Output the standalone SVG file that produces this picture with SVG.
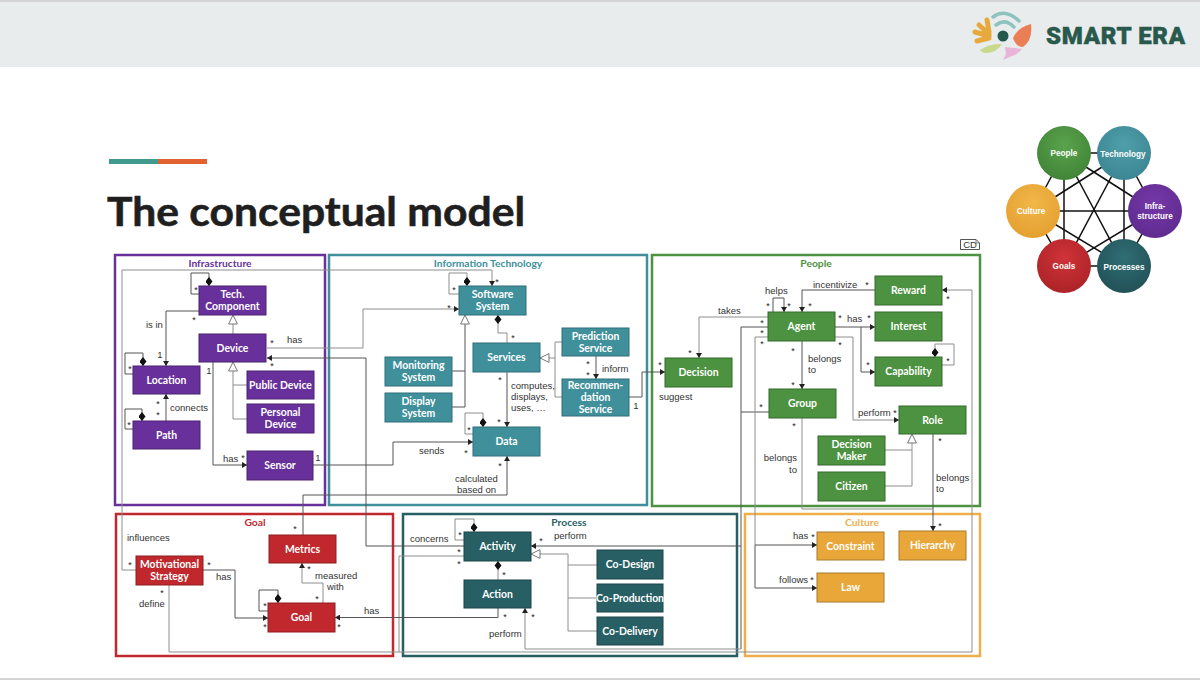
<svg xmlns="http://www.w3.org/2000/svg" width="1200" height="680" viewBox="0 0 1200 680">
<style>
.n{stroke-width:1}
.n text,.t{font-family:"Lato","Open Sans",sans-serif;font-weight:700;font-size:10.4px;fill:#fff;text-anchor:middle}
.pu rect{fill:#68309b;stroke:#4a2270}.te rect{fill:#40909c;stroke:#2e6f78}.gr rect{fill:#4c9240;stroke:#356a2c}.re rect{fill:#c0282d;stroke:#8f1e22}.dt rect{fill:#275f64;stroke:#1c4549}.or rect{fill:#e9a73a;stroke:#a87a2a}
.f{fill:none;stroke-width:2.5}
.fl{font-family:"Lato","Open Sans",sans-serif;font-weight:700;font-size:10.3px;text-anchor:middle}
.l{font-family:"Liberation Sans",Arial,sans-serif;font-size:9.5px;fill:#333}
.e{text-anchor:end}
.s{font-family:"Liberation Sans",Arial,sans-serif;font-size:9px;fill:#222;text-anchor:middle}
.c{fill:none;stroke:#555;stroke-width:1}
.g{fill:none;stroke:#8e8e8e;stroke-width:1}
.a{marker-end:url(#arr)}
.d{marker-start:url(#dia)}
.o{marker-start:url(#tri)}
.k line{stroke:#111;stroke-width:1.5}
.k text{font-family:"Liberation Sans",Arial,sans-serif;font-weight:700;font-size:8.2px;fill:#fff;text-anchor:middle}
.h{fill:none;stroke:#e7a93c;stroke-width:5;stroke-linecap:round}
.w{fill:none;stroke:#8cc3bc;stroke-width:3.5;stroke-linecap:round}
</style>
<defs>
<marker id="arr" markerUnits="userSpaceOnUse" markerWidth="6" markerHeight="6" refX="5" refY="3" orient="auto"><path d="M0 0L5 3L0 6Z" fill="#222"/></marker>
<marker id="dia" markerUnits="userSpaceOnUse" markerWidth="11" markerHeight="8" refX="0" refY="3.5" orient="auto"><path d="M0 3.5L4.500 0L9 3.500L4.500 7Z" fill="#111"/></marker>
<marker id="tri" markerUnits="userSpaceOnUse" markerWidth="12" markerHeight="10" refX="0.5" refY="5" orient="auto"><path d="M0.500 5L9.500 0.600V9.400Z" fill="#fff" stroke="#777"/></marker>
<radialGradient id="gP" cx="50%" cy="35%" r="70%"><stop offset="0" stop-color="#5aa34c"/><stop offset="1" stop-color="#3f8136"/></radialGradient>
<radialGradient id="gT" cx="50%" cy="35%" r="70%"><stop offset="0" stop-color="#4f9fab"/><stop offset="1" stop-color="#3a8490"/></radialGradient>
<radialGradient id="gI" cx="50%" cy="35%" r="70%"><stop offset="0" stop-color="#7538a8"/><stop offset="1" stop-color="#5e2a8e"/></radialGradient>
<radialGradient id="gR" cx="50%" cy="35%" r="70%"><stop offset="0" stop-color="#2f6e74"/><stop offset="1" stop-color="#214f55"/></radialGradient>
<radialGradient id="gG" cx="50%" cy="35%" r="70%"><stop offset="0" stop-color="#cf3338"/><stop offset="1" stop-color="#aa2226"/></radialGradient>
<radialGradient id="gC" cx="50%" cy="35%" r="70%"><stop offset="0" stop-color="#f2b649"/><stop offset="1" stop-color="#e39f2f"/></radialGradient>
</defs>
<rect width="1200" height="680" fill="#fff"/>
<g id="header">
<rect y="0" width="1200" height="67" fill="#e9eced"/>
<rect y="0" width="1200" height="2" fill="#d4d4d4"/>
<rect y="678" width="1200" height="2" fill="#d4d4d4"/>
</g>
<g id="logo">
<path class="w" d="M993 17Q1005 8 1019 21"/>
<path class="w" d="M996 25Q1005 18 1014 27"/>
<circle cx="1003" cy="36" r="5.500" fill="#25594e"/>
<path d="M1013 38Q1018 27 1031 24Q1033 40 1023 47Q1016 47 1013 38Z" fill="#ea7f57"/>
<path class="h" d="M989 36L975 32M989 34L979 25M989 32L987 20M989 38L977 41"/>
<path d="M980 50Q990 43 1002 44Q996 53 986 53Q982 53 980 50Z" fill="#c9d98c"/>
<path d="M1005 47L1022 49Q1018 54 1012 56L1003 60L1006 54Z" fill="#e8b4d8"/>
<text x="1046" y="44" font-family="Roboto,Lato,sans-serif" font-weight="900" font-size="24" fill="#28594c" stroke="#28594c" stroke-width=".5" textLength="139" lengthAdjust="spacing">SMART ERA</text>
</g>
<g id="title">
<rect x="109" y="159" width="49" height="5" fill="#429a8f"/>
<rect x="158" y="159" width="49" height="5" fill="#e2622f"/>
<text x="107" y="226" font-family="Lato,'Open Sans',sans-serif" font-weight="700" font-size="41" fill="#1f1f1f" stroke="#1f1f1f" stroke-width=".6" textLength="418" lengthAdjust="spacingAndGlyphs">The conceptual model</text>
</g>
<g id="wheel" class="k">
<line x1="1064" y1="153" x2="1124" y2="153"/><line x1="1064" y1="153" x2="1155" y2="211"/><line x1="1064" y1="153" x2="1124" y2="266"/><line x1="1064" y1="153" x2="1064" y2="266"/><line x1="1064" y1="153" x2="1033" y2="211"/>
<line x1="1124" y1="153" x2="1155" y2="211"/><line x1="1124" y1="153" x2="1124" y2="266"/><line x1="1124" y1="153" x2="1064" y2="266"/><line x1="1124" y1="153" x2="1033" y2="211"/>
<line x1="1155" y1="211" x2="1124" y2="266"/><line x1="1155" y1="211" x2="1064" y2="266"/><line x1="1155" y1="211" x2="1033" y2="211"/>
<line x1="1124" y1="266" x2="1064" y2="266"/><line x1="1124" y1="266" x2="1033" y2="211"/><line x1="1064" y1="266" x2="1033" y2="211"/>
<circle cx="1064" cy="153" r="27" fill="url(#gP)"/><text x="1064" y="156">People</text>
<circle cx="1124" cy="153" r="27" fill="url(#gT)"/><text x="1123" y="157">Technology</text>
<circle cx="1155" cy="211" r="27" fill="url(#gI)"/><text x="1155" y="209">Infra-</text><text x="1155" y="219">structure</text>
<circle cx="1124" cy="266" r="27" fill="url(#gR)"/><text x="1124" y="270">Processes</text>
<circle cx="1064" cy="266" r="27" fill="url(#gG)"/><text x="1064" y="269">Goals</text>
<circle cx="1033" cy="211" r="27" fill="url(#gC)"/><text x="1031" y="214">Culture</text>
</g>
<g id="frames">
<rect class="f" x="115" y="255" width="210" height="250" stroke="#68309b"/>
<rect class="f" x="329" y="255" width="318" height="250" stroke="#40909c"/>
<rect class="f" x="652" y="255" width="328" height="251" stroke="#4c9240"/>
<rect class="f" x="116" y="514" width="277" height="142" stroke="#c0282d"/>
<rect class="f" x="403" y="514" width="334" height="142" stroke="#275f64"/>
<rect class="f" x="745" y="514" width="235" height="142" stroke="#eeae4a"/>
<text class="fl" x="220" y="267" fill="#68309b">Infrastructure</text>
<text class="fl" x="488" y="267" fill="#40909c">Information Technology</text>
<text class="fl" x="816" y="267" fill="#4c9240">People</text>
<text class="fl" x="255" y="526" fill="#c0282d">Goal</text>
<text class="fl" x="569" y="526" fill="#275f64">Process</text>
<text class="fl" x="862" y="526" fill="#eeae4a">Culture</text>
<path d="M960.500 239.500H976L979.500 243V249.500H960.500Z" fill="#fff" stroke="#555"/>
<path d="M976 239.500V243H979.500" fill="none" stroke="#555" stroke-width=".7"/>
<text x="970" y="248" font-family="Liberation Sans,Arial,sans-serif" font-size="9.500" fill="#333" text-anchor="middle">CD</text>
</g>
<g id="connectors">
<path class="g a" d="M136 570H122V270H492V286"/>
<path class="g a" d="M267 348H363V309H459"/>
<path class="c a" d="M464 546H366V358H267"/>
<path class="g" d="M464 556H399V652"/>
<path class="g a" d="M169 585V652H972V290H942"/>
<path class="c a" d="M741 546H531"/>
<path class="c" d="M768 327H741V649"/>
<path class="g a" d="M741 649H525V608"/>
<path class="c" d="M769 412H741"/>
<path class="g" d="M768 337H755V545"/>
<path class="c a" d="M755 545H817"/>
<path class="c a" d="M755 545V588H817"/>
<path class="g a" d="M768 317H699V358"/>
<path class="c a" d="M629 397H642V372H665"/>
<path class="c a" d="M213 362V465H247"/>
<path class="c a" d="M313 465H393V442H473"/>
<path class="c a" d="M303 535V495H507V456"/>
<path class="c a" d="M498 608V617.500H335"/>
<path class="c a" d="M875 290H802V312"/>
<path class="c a" d="M802 341V389"/>
<path class="c a" d="M773 312V298H784V312"/>
<path class="c a" d="M835 327H875"/>
<path class="c a" d="M861 327V372H875"/>
<path class="g a" d="M835 337H853V420H899"/>
<path class="c a" d="M933 434V531"/>
<path class="g" d="M802 418V509H933"/>
<path class="g d" d="M935 357V344H954V365H942"/>
<path class="c a" d="M596 356V379"/>
<path class="g" d="M562 342H555V397H562"/>
<path class="g o" d="M540 358H555"/>
<path class="c a" d="M507 372V427"/>
<path class="g d" d="M498 315V333H507V343"/>
<path class="g d" d="M467 286V273H449V294H459"/>
<path class="c o" d="M465 315V407H452"/>
<path class="c" d="M452 371H465"/>
<path class="g d" d="M483 427V413H465V434H473"/>
<path class="c d" d="M209 286V273H191V294H199"/>
<path class="c d" d="M143 366V353H125V374H133"/>
<path class="c d" d="M142 421V409H125V429H133"/>
<path class="c a" d="M199 311H166V366"/>
<path class="c a" d="M166 421V394"/>
<path class="g o" d="M233 315V334"/>
<path class="g o" d="M233 362V419H247"/>
<path class="g" d="M233 385H247"/>
<path class="g o" d="M531 554H568V631H597"/>
<path class="g" d="M568 565H597M568 598H597"/>
<path class="g d" d="M474 532V519H455V540H464"/>
<path class="g d" d="M498 561V580"/>
<path class="c d" d="M278 603V590H259V611H268"/>
<path class="g a" d="M323 603V583H302V563"/>
<path class="c a" d="M203 570H235V618H268"/>
<path class="g o" d="M912 434V486H885"/>
<path class="g" d="M885 450H912"/>
</g>
<g id="labels">
<text class="l" x="146" y="328">is in</text><text class="l" x="170" y="411">connects</text><text class="l" x="287" y="343">has</text><text class="l" x="223" y="462">has</text>
<text class="l" x="602" y="372">inform</text><text class="l" x="511" y="389">computes,</text><text class="l" x="511" y="400">displays,</text><text class="l" x="511" y="411">uses, …</text>
<text class="l" x="419" y="454">sends</text><text class="l" x="455" y="482">calculated</text><text class="l" x="457" y="493">based on</text>
<text class="l" x="659" y="400">suggest</text><text class="l" x="718" y="314">takes</text><text class="l" x="765" y="294">helps</text><text class="l" x="813" y="288">incentivize</text><text class="l" x="847" y="322">has</text>
<text class="l" x="808" y="362">belongs</text><text class="l" x="808" y="373">to</text><text class="l e" x="797" y="461">belongs</text><text class="l e" x="797" y="473">to</text>
<text class="l" x="858" y="416">perform</text><text class="l" x="936" y="481">belongs</text><text class="l" x="936" y="492">to</text>
<text class="l" x="127" y="541">influences</text><text class="l" x="216" y="580">has</text><text class="l" x="139" y="607">define</text><text class="l" x="315" y="579">measured</text><text class="l" x="327" y="590">with</text><text class="l" x="364" y="614">has</text>
<text class="l" x="410" y="542">concerns</text><text class="l" x="554" y="539">perform</text><text class="l" x="489" y="637">perform</text>
<text class="l" x="793" y="539">has</text><text class="l" x="779" y="583">follows</text>
<text class="l" x="160" y="358" text-anchor="middle">1</text><text class="l" x="209" y="374" text-anchor="middle">1</text><text class="l" x="318" y="461" text-anchor="middle">1</text><text class="l" x="636" y="409" text-anchor="middle">1</text>
</g>
<g id="stars">
<text class="s" x="196" y="293">*</text><text class="s" x="194" y="323">*</text><text class="s" x="130" y="372">*</text><text class="s" x="158" y="407">*</text><text class="s" x="158" y="418">*</text><text class="s" x="129" y="428">*</text><text class="s" x="272" y="346">*</text><text class="s" x="272" y="369">*</text><text class="s" x="243" y="461">*</text>
<text class="s" x="454" y="293">*</text><text class="s" x="497" y="285">*</text><text class="s" x="449" y="311">*</text><text class="s" x="513" y="341">*</text><text class="s" x="500" y="383">*</text><text class="s" x="588" y="367">*</text><text class="s" x="588" y="378">*</text><text class="s" x="469" y="433">*</text><text class="s" x="499" y="425">*</text><text class="s" x="466" y="456">*</text><text class="s" x="500" y="469">*</text>
<text class="s" x="660" y="368">*</text><text class="s" x="768" y="309">*</text><text class="s" x="789" y="309">*</text><text class="s" x="810" y="309">*</text><text class="s" x="690" y="356">*</text><text class="s" x="762" y="326">*</text><text class="s" x="762" y="336">*</text><text class="s" x="762" y="347">*</text><text class="s" x="840" y="321">*</text><text class="s" x="869" y="321">*</text><text class="s" x="867" y="288">*</text><text class="s" x="948" y="302">*</text><text class="s" x="948" y="364">*</text><text class="s" x="868" y="368">*</text><text class="s" x="840" y="348">*</text><text class="s" x="793" y="354">*</text><text class="s" x="793" y="388">*</text><text class="s" x="761" y="410">*</text><text class="s" x="794" y="429">*</text><text class="s" x="895" y="416">*</text><text class="s" x="940" y="444">*</text>
<text class="s" x="130" y="568">*</text><text class="s" x="209" y="568">*</text><text class="s" x="162" y="596">*</text><text class="s" x="295" y="532">*</text><text class="s" x="309" y="572">*</text><text class="s" x="317" y="602">*</text><text class="s" x="265" y="609">*</text><text class="s" x="265" y="630">*</text><text class="s" x="339" y="630">*</text>
<text class="s" x="460" y="538">*</text><text class="s" x="459" y="555">*</text><text class="s" x="459" y="567">*</text><text class="s" x="541" y="544">*</text><text class="s" x="504" y="578">*</text><text class="s" x="505" y="620">*</text><text class="s" x="533" y="620">*</text>
<text class="s" x="813" y="540">*</text><text class="s" x="812" y="583">*</text><text class="s" x="940" y="529">*</text>
</g>
<g id="n-tech" class="n pu"><rect x="199" y="286" width="67" height="29"/><text x="232.500" y="298">Tech.</text><text x="232.500" y="310">Component</text></g>
<g id="n-device" class="n pu"><rect x="199" y="334" width="67" height="28"/><text x="232.500" y="352">Device</text></g>
<g id="n-location" class="n pu"><rect x="133" y="366" width="67" height="28"/><text x="166.500" y="384">Location</text></g>
<g id="n-path" class="n pu"><rect x="133" y="421" width="67" height="28"/><text x="166.500" y="439">Path</text></g>
<g id="n-public" class="n pu"><rect x="247" y="371" width="67" height="28"/><text x="280.500" y="389">Public Device</text></g>
<g id="n-personal" class="n pu"><rect x="247" y="404" width="67" height="29"/><text x="280.500" y="416">Personal</text><text x="280.500" y="428">Device</text></g>
<g id="n-sensor" class="n pu"><rect x="247" y="451" width="66" height="29"/><text x="280" y="469">Sensor</text></g>
<g id="n-software" class="n te"><rect x="459" y="286" width="67" height="29"/><text x="492.500" y="298">Software</text><text x="492.500" y="310">System</text></g>
<g id="n-services" class="n te"><rect x="473" y="343" width="67" height="29"/><text x="506.500" y="361">Services</text></g>
<g id="n-prediction" class="n te"><rect x="562" y="328" width="67" height="28"/><text x="595.500" y="340">Prediction</text><text x="595.500" y="352">Service</text></g>
<g id="n-recommendation" class="n te"><rect x="562" y="379" width="67" height="37"/><text x="595.500" y="389">Recommen-</text><text x="595.500" y="401">dation</text><text x="595.500" y="413">Service</text></g>
<g id="n-monitoring" class="n te"><rect x="385" y="357" width="67" height="29"/><text x="418.500" y="369">Monitoring</text><text x="418.500" y="381">System</text></g>
<g id="n-display" class="n te"><rect x="385" y="393" width="67" height="29"/><text x="418.500" y="405">Display</text><text x="418.500" y="417">System</text></g>
<g id="n-data" class="n te"><rect x="473" y="427" width="67" height="29"/><text x="506.500" y="445">Data</text></g>
<g id="n-reward" class="n gr"><rect x="875" y="276" width="67" height="29"/><text x="908.500" y="294">Reward</text></g>
<g id="n-agent" class="n gr"><rect x="768" y="312" width="67" height="29"/><text x="801.500" y="330">Agent</text></g>
<g id="n-interest" class="n gr"><rect x="875" y="312" width="67" height="29"/><text x="908.500" y="330">Interest</text></g>
<g id="n-capability" class="n gr"><rect x="875" y="357" width="67" height="29"/><text x="908.500" y="375">Capability</text></g>
<g id="n-decision" class="n gr"><rect x="665" y="358" width="67" height="29"/><text x="698.500" y="376">Decision</text></g>
<g id="n-group" class="n gr"><rect x="769" y="389" width="67" height="29"/><text x="802.500" y="407">Group</text></g>
<g id="n-role" class="n gr"><rect x="899" y="406" width="67" height="28"/><text x="932.500" y="424">Role</text></g>
<g id="n-decisionmaker" class="n gr"><rect x="818" y="436" width="67" height="29"/><text x="851.500" y="448">Decision</text><text x="851.500" y="460">Maker</text></g>
<g id="n-citizen" class="n gr"><rect x="818" y="472" width="67" height="29"/><text x="851.500" y="490">Citizen</text></g>
<g id="n-motivational" class="n re"><rect x="136" y="556" width="67" height="29"/><text x="169.500" y="568">Motivational</text><text x="169.500" y="580">Strategy</text></g>
<g id="n-metrics" class="n re"><rect x="269" y="535" width="67" height="28"/><text x="302.500" y="553">Metrics</text></g>
<g id="n-goal" class="n re"><rect x="268" y="603" width="67" height="29"/><text x="301.500" y="621">Goal</text></g>
<g id="n-activity" class="n dt"><rect x="464" y="532" width="67" height="29"/><text x="497.500" y="550">Activity</text></g>
<g id="n-action" class="n dt"><rect x="464" y="580" width="67" height="28"/><text x="497.500" y="598">Action</text></g>
<g id="n-codesign" class="n dt"><rect x="597" y="550" width="66" height="29"/><text x="630" y="568">Co-Design</text></g>
<g id="n-coproduction" class="n dt"><rect x="597" y="584" width="66" height="28"/><text x="630" y="602">Co-Production</text></g>
<g id="n-codelivery" class="n dt"><rect x="597" y="617" width="66" height="28"/><text x="630" y="635">Co-Delivery</text></g>
<g id="n-constraint" class="n or"><rect x="817" y="532" width="67" height="28"/><text x="850.500" y="550">Constraint</text></g>
<g id="n-hierarchy" class="n or"><rect x="899" y="531" width="67" height="29"/><text x="932.500" y="549">Hierarchy</text></g>
<g id="n-law" class="n or"><rect x="817" y="573" width="67" height="29"/><text x="850.500" y="591">Law</text></g>
</svg>
